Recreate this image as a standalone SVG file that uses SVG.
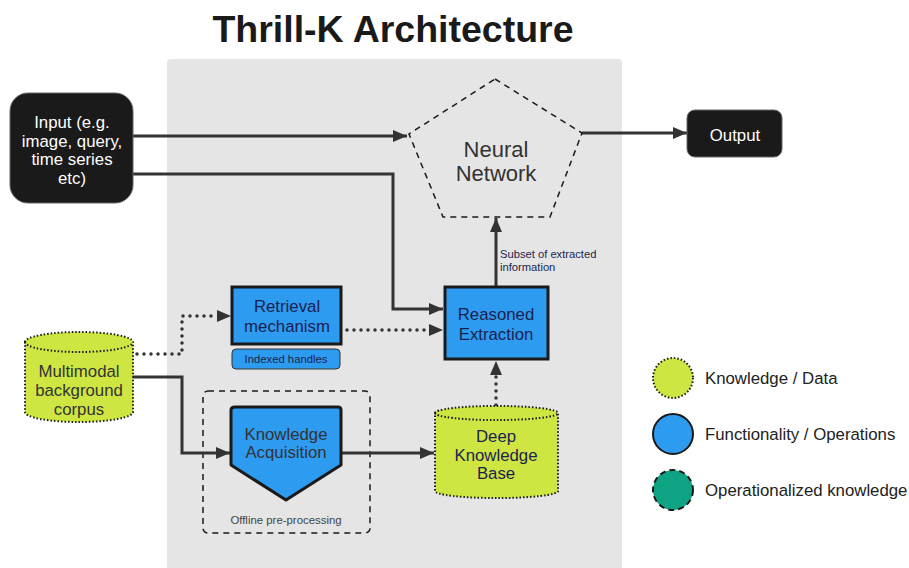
<svg xmlns="http://www.w3.org/2000/svg" width="909" height="568" viewBox="0 0 909 568">
<style>
text{font-family:"Liberation Sans",Arial,sans-serif;text-anchor:middle}
.w{fill:#fff;font-size:16.8px}
.n{fill:#1b1f4f;font-size:16.8px}
.g{fill:#333;font-size:16.8px}
.blk{fill:#1a1a1a;stroke:#666;stroke-width:1}
.fn{fill:#2d9bf0;stroke:#1a1a1a;stroke-width:3}
.kd{fill:#cfe642;stroke:#1a1a1a;stroke-width:2;stroke-dasharray:1.5 2}
.c{fill:none;stroke:#333;stroke-width:3}
.d{fill:none;stroke:#333;stroke-width:3.5;stroke-dasharray:0 7;stroke-linecap:round}
.ah{fill:#333}
.lg{fill:#222;font-size:16.8px;text-anchor:start}
</style>
<defs>
<marker id="ah" viewBox="0 0 14 12" refX="14" refY="6" markerWidth="14" markerHeight="12" markerUnits="userSpaceOnUse" orient="auto">
<path d="M0,0 L14,6 L0,12 Z" fill="#333"/>
</marker>
</defs>
<rect x="0" y="0" width="909" height="568" fill="#fff"/>
<text x="393" y="42" style="font-size:37.5px;font-weight:bold;fill:#1a1a1a">Thrill-K Architecture</text>
<rect id="panel" x="167" y="59" width="455" height="520" rx="4" fill="#e5e5e5"/>

<g id="offline">
<rect x="203" y="391" width="167" height="142" rx="5" fill="none" stroke="#1a1a1a" stroke-width="1.5" stroke-dasharray="6 5"/>
<text x="286" y="524" style="font-size:11.4px;fill:#444">Offline pre-processing</text>
</g>

<g id="connectors">
<path class="c" d="M133,136 H407" marker-end="url(#ah)"/>
<path class="c" d="M133,174 H393 V309 H443" marker-end="url(#ah)"/>
<path class="c" d="M582,133 H687" marker-end="url(#ah)"/>
<path class="c" d="M496,287 V218" marker-end="url(#ah)"/>
<path class="c" d="M133,377 H182 V453 H230" marker-end="url(#ah)"/>
<path class="c" d="M341,453 H434" marker-end="url(#ah)"/>
<path class="d" d="M137,354 H182 V316 H216"/>
<polygon class="ah" points="217,310 231,316 217,322"/>
<path class="d" d="M347,330 H428"/>
<polygon class="ah" points="429,324 443,330 429,336"/>
<path class="d" d="M496,405 V376"/>
<polygon class="ah" points="490,375 496,361 502,375"/>
<text x="500" y="258" style="font-size:11.2px;fill:#1b1f4f;text-anchor:start">Subset of extracted</text>
<text x="500" y="271" style="font-size:11.2px;fill:#1b1f4f;text-anchor:start">information</text>
</g>

<g id="input">
<rect class="blk" x="10" y="93" width="123" height="110" rx="18"/>
<text class="w" x="72" y="128">Input (e.g.</text>
<text class="w" x="72" y="147">image, query,</text>
<text class="w" x="72" y="165">time series</text>
<text class="w" x="72" y="184">etc)</text>
</g>

<g id="neural">
<polygon points="495,79 582,133 550,217 443,217 409,134" fill="none" stroke="#1a1a1a" stroke-width="1.5" stroke-dasharray="6 5"/>
<text x="496" y="157" style="font-size:22px;fill:#333">Neural</text>
<text x="496" y="181" style="font-size:22px;fill:#333">Network</text>
</g>

<g id="output">
<rect class="blk" x="687" y="110" width="95" height="47" rx="8"/>
<text class="w" x="735" y="141">Output</text>
</g>

<g id="retrieval">
<rect class="fn" x="232" y="287" width="109" height="57"/>
<text class="n" x="287" y="312">Retrieval</text>
<text class="n" x="287" y="332">mechanism</text>
</g>

<g id="handles">
<rect x="232" y="349" width="108" height="20" rx="4" fill="#2d9bf0" stroke="#333" stroke-width="1"/>
<text x="286" y="363" style="font-size:11.3px;fill:#1b1f4f">Indexed handles</text>
</g>

<g id="reasoned">
<rect class="fn" x="445" y="287" width="103" height="72"/>
<text class="n" x="496" y="320">Reasoned</text>
<text class="n" x="496" y="340">Extraction</text>
</g>

<g id="corpus">
<path class="kd" d="M25,342 A54,10 0 0 1 133,342 V412 A54,10 0 0 1 25,412 Z"/>
<path class="kd" fill="none" d="M25,342 A54,10 0 0 0 133,342"/>
<text class="g" x="79" y="377">Multimodal</text>
<text class="g" x="79" y="396">background</text>
<text class="g" x="79" y="415">corpus</text>
</g>

<g id="acquisition">
<path class="fn" stroke-width="2.5" stroke-linejoin="round" d="M235,407 H338 Q341,407 341,410 V465 L286,500 L231,465 V410 Q231,407 235,407 Z"/>
<text class="g" x="286" y="440">Knowledge</text>
<text class="g" x="286" y="458">Acquisition</text>
</g>

<g id="dkb">
<path class="kd" d="M435,413 A61,7 0 0 1 558,413 V491 A61,7 0 0 1 435,491 Z"/>
<path class="kd" fill="none" d="M435,413 A61,7 0 0 0 558,413"/>
<text class="n" x="496" y="442">Deep</text>
<text class="n" x="496" y="461">Knowledge</text>
<text class="n" x="496" y="479">Base</text>
</g>

<g id="legend">
<circle cx="673" cy="378" r="20" fill="#cfe642" stroke="#1a1a1a" stroke-width="2" stroke-dasharray="1.5 2"/>
<text class="lg" x="705" y="384">Knowledge / Data</text>
<circle cx="673" cy="434" r="20" fill="#2d9bf0" stroke="#1a1a1a" stroke-width="2"/>
<text class="lg" x="705" y="440">Functionality / Operations</text>
<circle cx="673" cy="490" r="20" fill="#0ea383" stroke="#1a1a1a" stroke-width="2" stroke-dasharray="6 4"/>
<text class="lg" x="705" y="496">Operationalized knowledge</text>
</g>
</svg>
